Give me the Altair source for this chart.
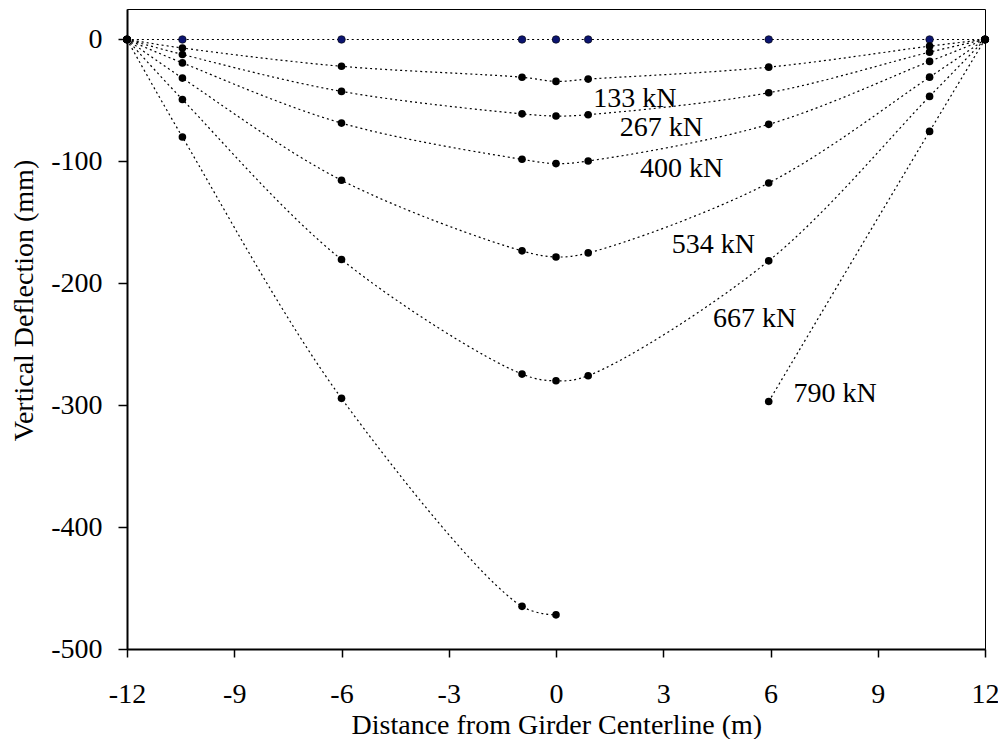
import altair as alt
import pandas as pd

# ---- data ----
x_pos = [-12, -10.45, -6, -0.95, 0, 0.9, 5.95, 10.45, 12]
loads = ["0 kN", "133 kN", "267 kN", "400 kN", "534 kN", "667 kN", "790 kN"]
defl_0 = [0, 0, 0, 0, 0, 0, 0, 0, 0]
defl_133 = [0, -7, -22, -31, -34.4, -32.5, -22.7, -5.5, 0]
defl_267 = [0, -12.3, -42.6, -61, -62.8, -61.7, -43.7, -10.4, 0]
defl_400 = [0, -19.2, -68.6, -98.3, -101.8, -99.7, -69.6, -18, 0]
defl_534 = [0, -31.7, -115.5, -173.4, -178.4, -175.1, -117.7, -30.9, 0]
defl_667 = [0, -49.2, -180.5, -274.5, -280, -275.8, -181.6, -46.7, 0]
defl_790 = [0, -80, -294.4, -465, -472, None, -297, -75.4, 0]

# label annotations (data units)
label_text = ["133 kN", "267 kN", "400 kN", "534 kN", "667 kN", "790 kN"]
label_x = [1.04, 1.78, 2.35, 3.24, 4.39, 6.64]
label_y = [-55.5, -79.2, -112.8, -174.8, -235.7, -297]

x_ticks = [-12, -9, -6, -3, 0, 3, 6, 9, 12]
y_ticks = [-500, -400, -300, -200, -100, 0]

series = [defl_0, defl_133, defl_267, defl_400, defl_534, defl_667, defl_790]
rows = []
for name, vals in zip(loads, series):
    seg = 0
    for xv, yv in zip(x_pos, vals):
        if yv is None:
            seg += 1
            continue
        rows.append({"load": name, "seg": f"{name}-{seg}", "x": xv, "y": yv})
df = pd.DataFrame(rows)
labels = pd.DataFrame({"text": label_text, "x": label_x, "y": label_y})

FONT = "Liberation Serif"

xscale = alt.Scale(domain=[-12, 12], nice=False, zero=False)
yscale = alt.Scale(domain=[-500, 25], nice=False, zero=False)

xenc = alt.X("x:Q", scale=xscale, axis=alt.Axis(
    values=x_ticks, title="Distance from Girder Centerline (m)",
    labelExpr="'' + datum.value",
    tickSize=8, labelPadding=23, titleX=429.3, titleY=84.5,
    titleBaseline="alphabetic", titleAlign="center"))
yenc = alt.Y("y:Q", scale=yscale, axis=alt.Axis(
    values=y_ticks, title="Vertical Deflection (mm)",
    labelExpr="'' + datum.value",
    tickSize=9, labelPadding=16, titleX=-94.5, titleY=291,
    titleBaseline="alphabetic", titleAlign="center", titleAngle=270))

base = alt.Chart(df)

lines = base.mark_line(
    interpolate="catmull-rom", color="black", strokeWidth=1.2, strokeDash=[2, 3]
).encode(x=xenc, y=yenc, detail="seg:N")

navy_pts = base.transform_filter(alt.datum.load == "0 kN").mark_point(
    filled=True, shape="circle", size=58, color="#0B1470", stroke="black",
    strokeWidth=0.6, opacity=1
).encode(x="x:Q", y="y:Q")

black_pts = base.transform_filter(alt.datum.load != "0 kN").mark_point(
    filled=True, shape="circle", size=58, color="black", opacity=1
).encode(x="x:Q", y="y:Q")

text = alt.Chart(labels).mark_text(
    align="left", baseline="alphabetic", font=FONT, fontSize=28, color="black"
).encode(x="x:Q", y="y:Q", text="text:N")

chart = alt.layer(lines, navy_pts, black_pts, text).properties(
    width=858, height=640,
    autosize=alt.AutoSizeParams(type="none"),
    padding={"left": 119, "top": 1, "right": 13, "bottom": 90},
).configure_view(
    stroke="black", strokeWidth=1
).configure_axis(
    grid=False, domainColor="black", domainWidth=2, tickColor="black",
    tickWidth=1.5, labelFont=FONT, labelFontSize=28, labelColor="black",
    titleFont=FONT, titleFontSize=28, titleFontWeight="normal",
    titleColor="black", labelFlush=False, labelOverlap=False
)

chart.save("out.html", embed_options={"renderer": "svg", "actions": False})
